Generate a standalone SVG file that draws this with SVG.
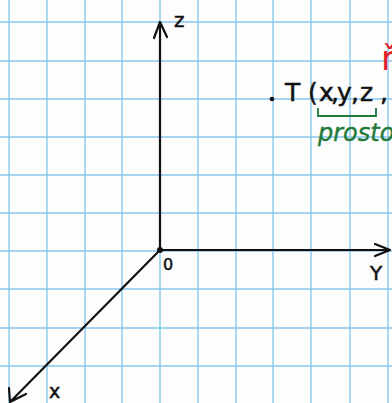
<svg xmlns="http://www.w3.org/2000/svg" width="392" height="403" viewBox="0 0 392 403">
<style>
.grid line{stroke:#86c6ec;stroke-width:1.4}
.axis{stroke:#111;stroke-width:2.2;fill:none;stroke-linecap:round;stroke-linejoin:round}
.lbl{font-family:"DejaVu Sans",sans-serif;fill:#111;stroke:#111;stroke-width:0.5}
.green{fill:#1f7a3a;stroke:#1f7a3a;stroke-width:0.4;font-family:"DejaVu Sans",sans-serif;font-style:italic}
</style>
<rect width="392" height="403" fill="#fdfdfd"/>
<g class="grid" id="grid">
<line x1="9" y1="0" x2="9" y2="403"/>
<line x1="47" y1="0" x2="47" y2="403"/>
<line x1="85" y1="0" x2="85" y2="403"/>
<line x1="122" y1="0" x2="122" y2="403"/>
<line x1="160" y1="0" x2="160" y2="403"/>
<line x1="198" y1="0" x2="198" y2="403"/>
<line x1="236" y1="0" x2="236" y2="403"/>
<line x1="273" y1="0" x2="273" y2="403"/>
<line x1="311" y1="0" x2="311" y2="403"/>
<line x1="350" y1="0" x2="350" y2="403"/>
<line x1="388" y1="0" x2="388" y2="403"/>
<line x1="0" y1="22" x2="392" y2="22"/>
<line x1="0" y1="61" x2="392" y2="61"/>
<line x1="0" y1="99" x2="392" y2="99"/>
<line x1="0" y1="137" x2="392" y2="137"/>
<line x1="0" y1="175" x2="392" y2="175"/>
<line x1="0" y1="213" x2="392" y2="213"/>
<line x1="0" y1="251" x2="392" y2="251"/>
<line x1="0" y1="289" x2="392" y2="289"/>
<line x1="0" y1="328" x2="392" y2="328"/>
<line x1="0" y1="366" x2="392" y2="366"/>
</g>
<g id="connectors">
<path class="axis" d="M160,250 L160,22 M154,38 L160,22 L167,37"/>
<path class="axis" d="M160,250 L390,250 M375,244 L390,250 L375,256"/>
<path class="axis" d="M160,250 L10,402 M9,388 L10,402 L26,394"/>
</g>
<g id="origin">
<circle cx="160" cy="250" r="3" fill="#111"/>
<text class="lbl" x="163" y="270" font-size="16">0</text>
</g>
<g id="axis-z"><text class="lbl" x="174" y="27" font-size="20">z</text></g>
<g id="axis-y"><text class="lbl" x="370" y="280" font-size="20">Y</text></g>
<g id="axis-x"><text class="lbl" x="49" y="398" font-size="19">x</text></g>
<g id="point-T">
<circle cx="272" cy="99" r="2.3" fill="#111"/>
<text class="lbl" font-size="25" x="285 308 319 331 337 351 360 380" y="101">T(x,y,z,</text>
<path d="M318,108 L318,116 L376,116 L376,108" fill="none" stroke="#1f7a3a" stroke-width="1.8"/>
<text class="green" x="318" y="141" font-size="24">prosto</text>
</g>
<g id="red-note">
<text x="381" y="70" font-size="34" fill="#e0202a" font-family="DejaVu Sans,sans-serif">ř</text>
</g>
</svg>
